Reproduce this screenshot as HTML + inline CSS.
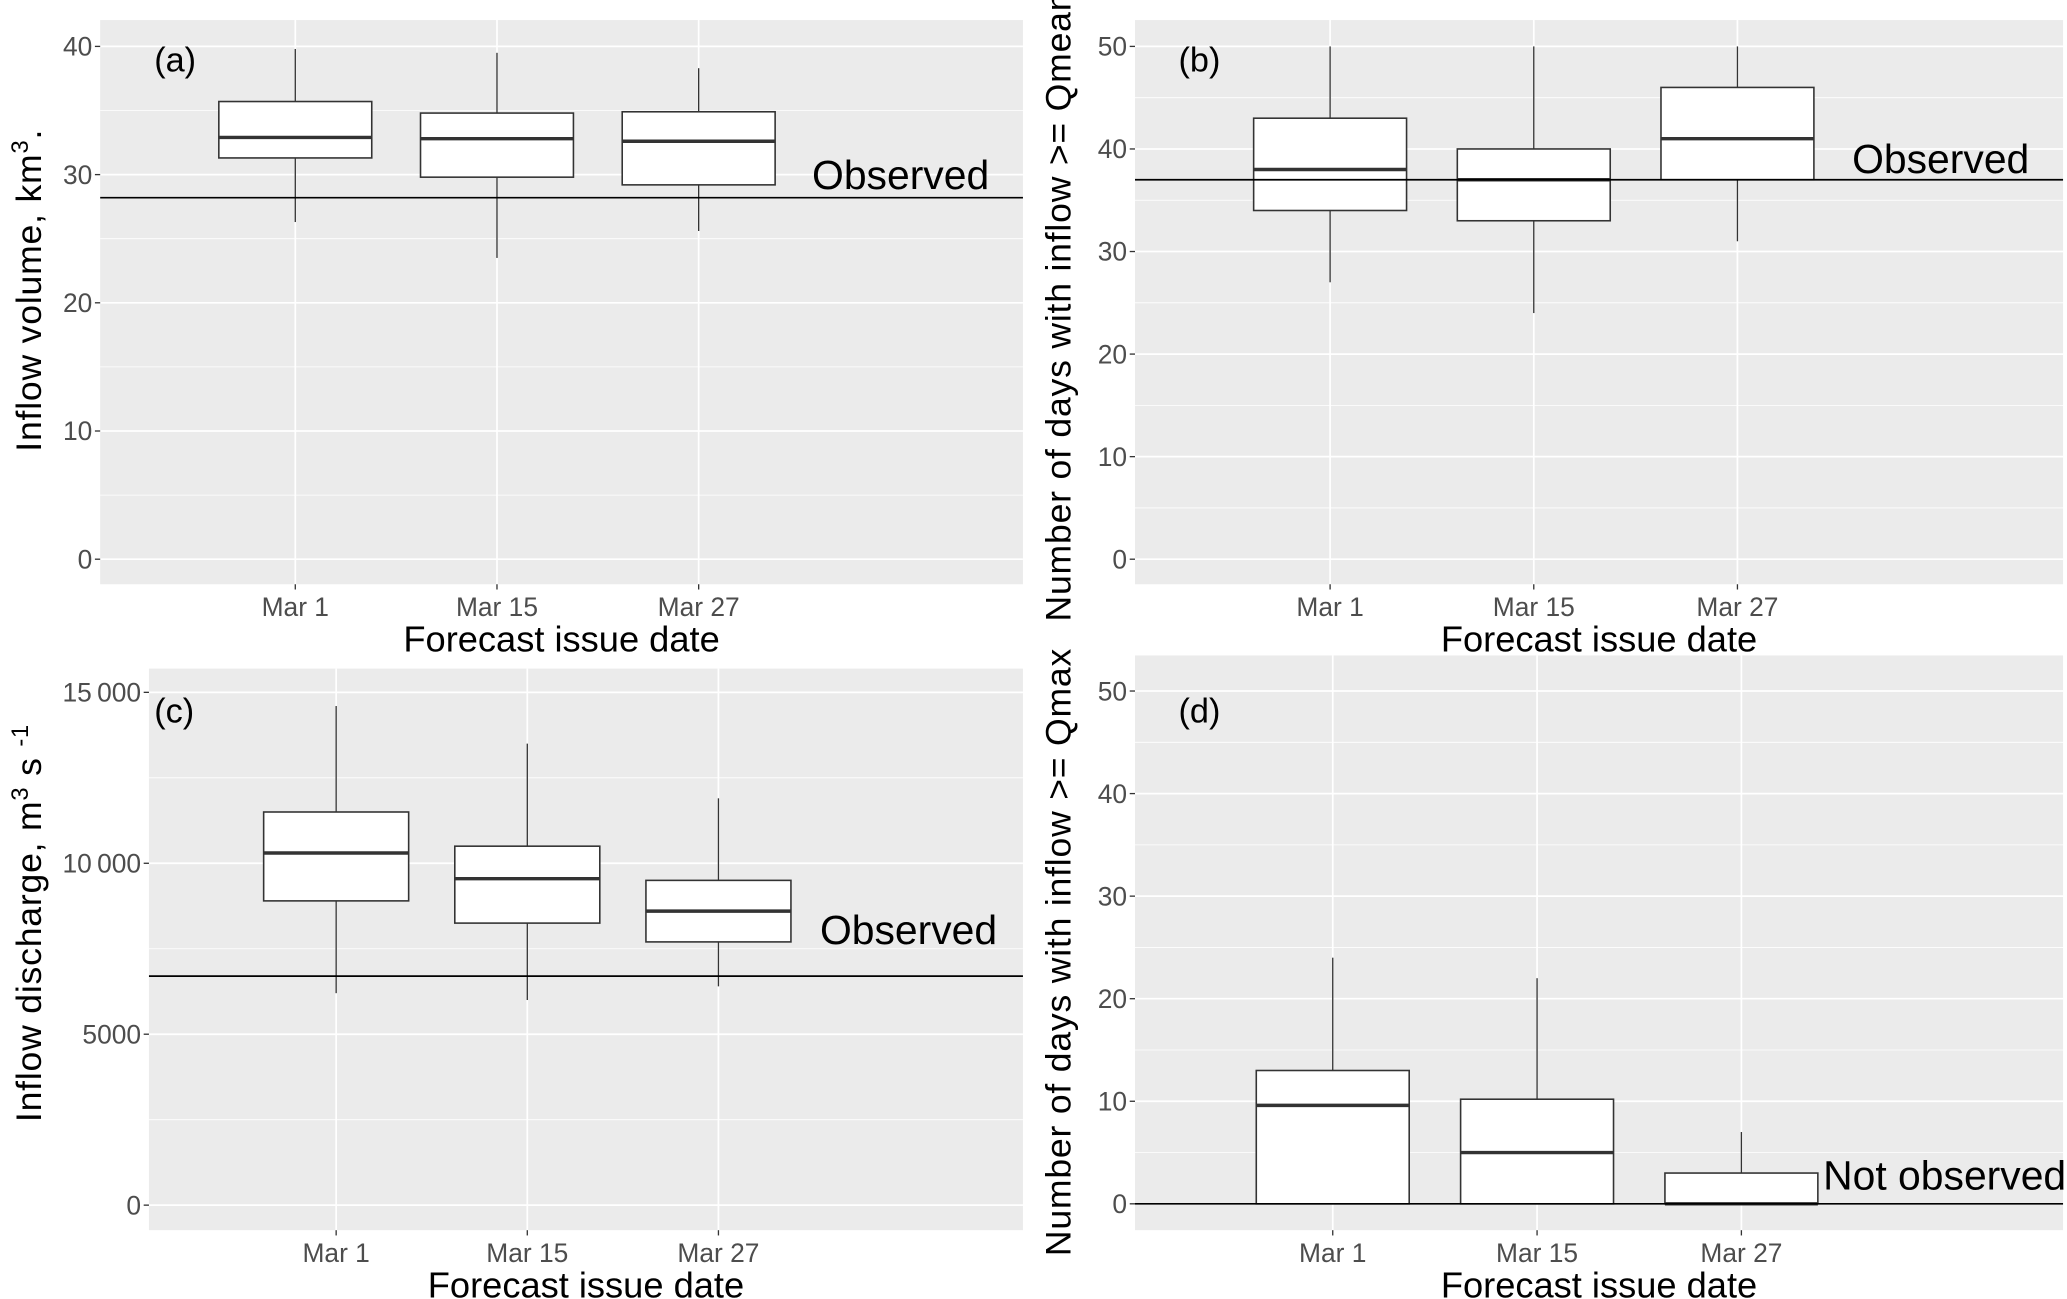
<!DOCTYPE html>
<html><head><meta charset="utf-8"><style>
html,body{margin:0;padding:0;background:#fff;overflow:hidden;}
svg{display:block;font-family:"Liberation Sans",sans-serif;}
</style></head><body>
<svg id="chart" width="2067" height="1299" viewBox="0 0 1568 985" xmlns="http://www.w3.org/2000/svg"></svg>
<script>
// ---- data (a) inflow volume km3 ----
const categories = ["Mar 1", "Mar 15", "Mar 27"];
const aLow = [26.3, 23.5, 25.6];
const aQ1 = [31.3, 29.8, 29.2];
const aMed = [32.9, 32.8, 32.6];
const aQ3 = [35.7, 34.8, 34.9];
const aHigh = [39.8, 39.5, 38.3];
const aObserved = 28.2;
const aTicks = [0, 10, 20, 30, 40];
// ---- data (b) days >= Qmean ----
const bLow = [27, 24, 31];
const bQ1 = [34, 33, 37];
const bMed = [38, 37, 41];
const bQ3 = [43, 40, 46];
const bHigh = [50, 50, 50];
const bObserved = 37;
const bTicks = [0, 10, 20, 30, 40, 50];
// ---- data (c) inflow discharge ----
const cLow = [6200, 6000, 6400];
const cQ1 = [8900, 8250, 7700];
const cMed = [10300, 9550, 8600];
const cQ3 = [11500, 10500, 9500];
const cHigh = [14600, 13500, 11900];
const cObserved = 6700;
const cTicks = [0, 5000, 10000, 15000];
const cTickLabels = ["0", "5000", "10\u2009000", "15\u2009000"];
// ---- data (d) days >= Qmax ----
const dLow = [0, 0, 0];
const dQ1 = [0, 0, 0];
const dMed = [9.6, 5, 0];
const dQ3 = [13, 10.2, 3];
const dHigh = [24, 22, 7];
const dObserved = 0;
const dTicks = [0, 10, 20, 30, 40, 50];

const NS = "http://www.w3.org/2000/svg";
const svg = document.getElementById("chart");
function mk(tag, attrs, parent, text) {
  const e = document.createElementNS(NS, tag);
  for (const k in attrs) e.setAttribute(k, attrs[k]);
  if (text !== undefined) e.textContent = text;
  (parent || svg).appendChild(e);
  return e;
}

function panel(cfg) {
  const g = mk("g", {});
  
  
  const y = v => cfg.yZero + (cfg.yTop - cfg.yZero) * (v / cfg.vTop);
  const x = i => cfg.xc0 + cfg.dx * i;
  const bg = mk("rect", {x: cfg.x0, y: cfg.y0, width: cfg.x1 - cfg.x0, height: cfg.y1 - cfg.y0, fill: "#ebebeb"}, g);
  
  
  for (let k = 0; k < cfg.ticks.length - 1; k++) {
    const mv = (cfg.ticks[k] + cfg.ticks[k + 1]) / 2;
    mk("line", {x1: cfg.x0, x2: cfg.x1, y1: y(mv), y2: y(mv), stroke: "#fff", "stroke-width": 0.6}, g);
  }
  const topMinor = cfg.ticks[cfg.ticks.length - 1] + (cfg.ticks[1] - cfg.ticks[0]) / 2;
  if (y(topMinor) > cfg.y0) mk("line", {x1: cfg.x0, x2: cfg.x1, y1: y(topMinor), y2: y(topMinor), stroke: "#fff", "stroke-width": 0.6}, g);
  cfg.ticks.forEach((t, k) => {
    const gl = mk("line", {x1: cfg.x0, x2: cfg.x1, y1: y(t), y2: y(t), stroke: "#fff", "stroke-width": 1.3}, g);
    
    
    mk("line", {x1: cfg.x0 - 4, x2: cfg.x0, y1: y(t), y2: y(t), stroke: "#333", "stroke-width": 1}, g);
    const tl = mk("text", {x: cfg.x0 - 6, y: y(t) + 7, "text-anchor": "end", "font-size": 20, fill: "#4d4d4d"}, g, cfg.tickLabels ? cfg.tickLabels[k] : String(t));
    
    
  });
  categories.forEach((c, i) => {
    mk("line", {x1: x(i), x2: x(i), y1: cfg.y0, y2: cfg.y1, stroke: "#fff", "stroke-width": 1.3}, g);
    mk("line", {x1: x(i), x2: x(i), y1: cfg.y1, y2: cfg.y1 + 4, stroke: "#333", "stroke-width": 1}, g);
    const xl = mk("text", {x: x(i), y: cfg.y1 + 24, "text-anchor": "middle", "font-size": 20, fill: "#4d4d4d"}, g, c);
    
    
  });
  categories.forEach((c, i) => {
    const bx = mk("g", {}, g);
    
    
    mk("line", {x1: x(i), x2: x(i), y1: y(cfg.high[i]), y2: y(cfg.q3[i]), stroke: "#333", "stroke-width": 1}, bx);
    mk("line", {x1: x(i), x2: x(i), y1: y(cfg.q1[i]), y2: y(cfg.low[i]), stroke: "#333", "stroke-width": 1}, bx);
    mk("rect", {x: x(i) - cfg.half, y: y(cfg.q3[i]), width: cfg.half * 2, height: Math.max(0, y(cfg.q1[i]) - y(cfg.q3[i])), fill: "#fff", stroke: "#333", "stroke-width": 1.2}, bx);
    mk("line", {x1: x(i) - cfg.half, x2: x(i) + cfg.half, y1: y(cfg.med[i]), y2: y(cfg.med[i]), stroke: "#333", "stroke-width": 2.6}, bx);
  });
  const ob = mk("line", {x1: cfg.x0, x2: cfg.x1, y1: y(cfg.obs), y2: y(cfg.obs), stroke: "#000", "stroke-width": 1.3}, g);
  
  
  const ot = mk("text", {x: cfg.obsX, y: cfg.obsY, "font-size": 31, fill: "#000"}, g, cfg.obsText);
  
  
  const pl = mk("text", {x: cfg.tagX, y: cfg.tagY, "font-size": 26, fill: "#000"}, g, cfg.tag);
  
  
  const xt = mk("text", {x: (cfg.x0 + cfg.x1) / 2, y: cfg.y1 + 51, "text-anchor": "middle", "font-size": 27.5, fill: "#000"}, g, "Forecast issue date");
  
  
  const yt = mk("text", {x: 0, y: 0, "text-anchor": "middle", "font-size": 27, "letter-spacing": 0.6, fill: "#000", transform: `translate(${cfg.ytX},${cfg.ytY}) rotate(-90)`}, g);
  
  
  cfg.ytParts.forEach(p => {
    mk("tspan", p.sup ? {"baseline-shift": "super", "font-size": 18} : {}, yt, p.t);
  });
}

panel({name: "panel-a-inflow-volume", tag: "(a)", tagX: 117, tagY: 54, x0: 76, x1: 776, y0: 15, y1: 443, yZero: 424, yTop: 35, vTop: 40, xc0: 224, dx: 153, half: 58,
  ticks: aTicks, low: aLow, q1: aQ1, med: aMed, q3: aQ3, high: aHigh, obs: aObserved, obsText: "Observed", obsX: 616, obsY: 143,
  ytX: 31, ytY: 220, ytParts: [{t: "Inflow volume, km"}, {t: "3", sup: true}, {t: "."}]});
panel({name: "panel-b-days-qmean", tag: "(b)", tagX: 894, tagY: 54, x0: 861, x1: 1565, y0: 15, y1: 443, yZero: 424, yTop: 35, vTop: 50, xc0: 1009, dx: 154.5, half: 58,
  ticks: bTicks, low: bLow, q1: bQ1, med: bMed, q3: bQ3, high: bHigh, obs: bObserved, obsText: "Observed", obsX: 1405, obsY: 131,
  ytX: 812, ytY: 232, ytParts: [{t: "Number of days with inflow >= Qmean"}]});
panel({name: "panel-c-inflow-discharge", tag: "(c)", tagX: 117, tagY: 548, x0: 113, x1: 776, y0: 507, y1: 933, yZero: 914, yTop: 525, vTop: 15000, xc0: 255, dx: 145, half: 55,
  ticks: cTicks, tickLabels: cTickLabels, low: cLow, q1: cQ1, med: cMed, q3: cQ3, high: cHigh, obs: cObserved, obsText: "Observed", obsX: 622, obsY: 716,
  ytX: 31, ytY: 700, ytParts: [{t: "Inflow discharge, m"}, {t: "3", sup: true}, {t: " s "}, {t: "-1", sup: true}]});
panel({name: "panel-d-days-qmax", tag: "(d)", tagX: 894, tagY: 548, x0: 861, x1: 1565, y0: 497, y1: 933, yZero: 913, yTop: 524, vTop: 50, xc0: 1011, dx: 155, half: 58,
  ticks: dTicks, low: dLow, q1: dQ1, med: dMed, q3: dQ3, high: dHigh, obs: dObserved, obsText: "Not observed", obsX: 1383, obsY: 902,
  ytX: 812, ytY: 722, ytParts: [{t: "Number of days with inflow >= Qmax"}]});
</script>
</body></html>
